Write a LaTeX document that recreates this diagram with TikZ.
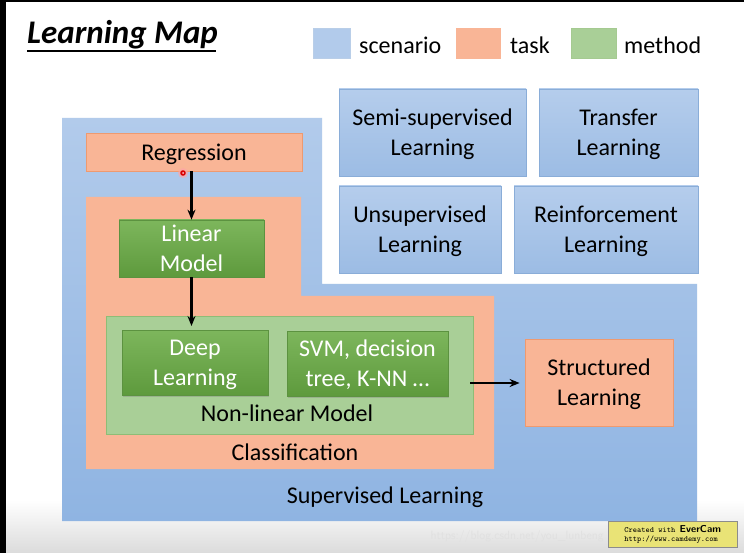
\documentclass[tikz,border=0pt]{standalone}
\usepackage{fontspec}
\setmainfont{Carlito}
\usetikzlibrary{arrows.meta,shadows}
\definecolor{bluetop}{HTML}{B5CDEC}
\definecolor{bluebot}{HTML}{9CBCE4}
\definecolor{blueedge}{HTML}{8AADD8}
\definecolor{regtop}{HTML}{B2CBEB}
\definecolor{regbot}{HTML}{8FB4E2}
\definecolor{orfill}{HTML}{F9B596}
\definecolor{oredge}{HTML}{EE9A70}
\definecolor{grtop}{HTML}{7DB65C}
\definecolor{grbot}{HTML}{5E9A3D}
\definecolor{gredge}{HTML}{5C9240}
\definecolor{panelfill}{HTML}{A9CF97}
\definecolor{paneledge}{HTML}{8EBD76}
\tikzset{
  lbl/.style={font=\fontsize{24}{30}\selectfont, align=center, inner sep=0pt, text depth=0pt},
  scenbox/.style={lbl, draw=blueedge, line width=0.8pt, top color=bluetop, bottom color=bluebot},
  taskbox/.style={lbl, draw=oredge, line width=0.8pt, fill=orfill},
  methbox/.style={lbl, draw=gredge, line width=0.6pt, top color=grtop, bottom color=grbot, text=white,
     drop shadow={shadow xshift=1pt, shadow yshift=-1.5pt, opacity=0.35}},
  arr/.style={-{Stealth[length=10pt,width=8pt]}, line width=2.4pt, black},
  legsq/.style={minimum width=#1, minimum height=30pt, inner sep=0pt, anchor=north west}
}
\begin{document}
\begin{tikzpicture}[x=1pt,y=-1pt]
\useasboundingbox (0,0) rectangle (744,553);
% background
\fill[white] (0,0) rectangle (744,553);
\shade[top color=white, bottom color=black!14] (6,500) rectangle (744,553);
\fill[black] (0,0) rectangle (6,553);
\fill[black] (0,0) rectangle (744,2);

% title and legend
\node[anchor=base west, inner sep=0pt, font=\fontsize{33}{36}\selectfont\bfseries\itshape] (title) at (27,44) {Learning Map};
\draw[line width=1.6pt] (title.base west |- 0,51) -- ([xshift=-2pt]title.base east |- 0,51);
\node[legsq=37pt, fill=bluetop!90!bluebot, draw=blueedge!60] (lgb) at (313,28) {};
\node[lbl, anchor=west] (lgbt) at (359,45) {scenario};
\node[legsq=44pt, fill=orfill, draw=orfill] (lgo) at (456,28) {};
\node[lbl, anchor=west] (lgot) at (510,45) {task};
\node[legsq=45pt, fill=panelfill, draw=paneledge!80] (lgg) at (571,28) {};
\node[lbl, anchor=west] (lggt) at (624,45) {method};

% supervised region
\shade[top color=regtop, bottom color=regbot] (62,118) -- (322,118) -- (322,284) -- (697,284) -- (697,521) -- (62,521) -- cycle;
\node[lbl] (sup) at (385,495) {Supervised Learning};

% classification region
\fill[orfill] (86,197) -- (301,197) -- (301,296) -- (494,296) -- (494,469) -- (86,469) -- cycle;
\node[lbl] (cls) at (295,452) {Classification};

% regression
\node[taskbox, minimum width=216pt, minimum height=38pt] (reg) at (194,152) {Regression};

% linear model
\node[methbox, minimum width=145pt, minimum height=57pt] (lin) at (191.5,248.5) {Linear\\Model};

% non-linear panel
\node[lbl, draw=paneledge, fill=panelfill, minimum width=367pt, minimum height=118pt] (nonlin) at (289.5,375) {};
\node[lbl] (nonlint) at (287,413) {Non-linear Model};
\node[methbox, minimum width=146pt, minimum height=65pt] (deep) at (195,362.5) {Deep\\Learning};
\node[methbox, minimum width=161pt, minimum height=65pt] (svm) at (367.5,363.5) {SVM, decision\\tree, K-NN \dots};

% structured
\node[taskbox, minimum width=148pt, minimum height=87pt] (struct) at (599,382.5) {Structured\\Learning};

% other scenarios
\node[scenbox, minimum width=187pt, minimum height=87pt] (semi) at (432.5,132.5) {Semi-supervised\\Learning};
\node[scenbox, minimum width=159pt, minimum height=87pt] (trans) at (618.5,132.5) {Transfer\\Learning};
\node[scenbox, minimum width=162pt, minimum height=87pt] (unsup) at (420,229.5) {Unsupervised\\Learning};
\node[scenbox, minimum width=184pt, minimum height=87pt] (reinf) at (606,229.5) {Reinforcement\\Learning};

% arrows
\draw[arr] (reg.south -| lin.north) -- (lin.north);
\coordinate (dtop) at (lin.south |- 0,326);
\draw[arr] (lin.south) -- (dtop);
\draw[arr, shorten <=-3pt, shorten >=5pt] (nonlin.east |- 0,383) -- (struct.west |- 0,383);

% pointer dot
\fill[red!35, opacity=0.7] (183,173) circle (5pt);
\fill[red!85!black] (183,173) circle (2.8pt);
\fill[white!80!red] (183,173) circle (1pt);

% watermarks
\node[font=\fontsize{12}{12}\selectfont\sffamily, text=white!88!black, anchor=east, inner sep=0pt] (wm) at (604,536) {https://blog.csdn.net/you\_lunbeng};
\node[draw=black!45, fill=yellow!55!white!90!black, minimum width=129pt, minimum height=26pt, inner sep=0pt, anchor=north west, align=left, font=\fontsize{8}{9}\selectfont\ttfamily] (badge) at (608,521) {Created with \textbf{\sffamily\fontsize{10}{9}\selectfont EverCam}\\http://www.camdemy.com};
\end{tikzpicture}
\end{document}
